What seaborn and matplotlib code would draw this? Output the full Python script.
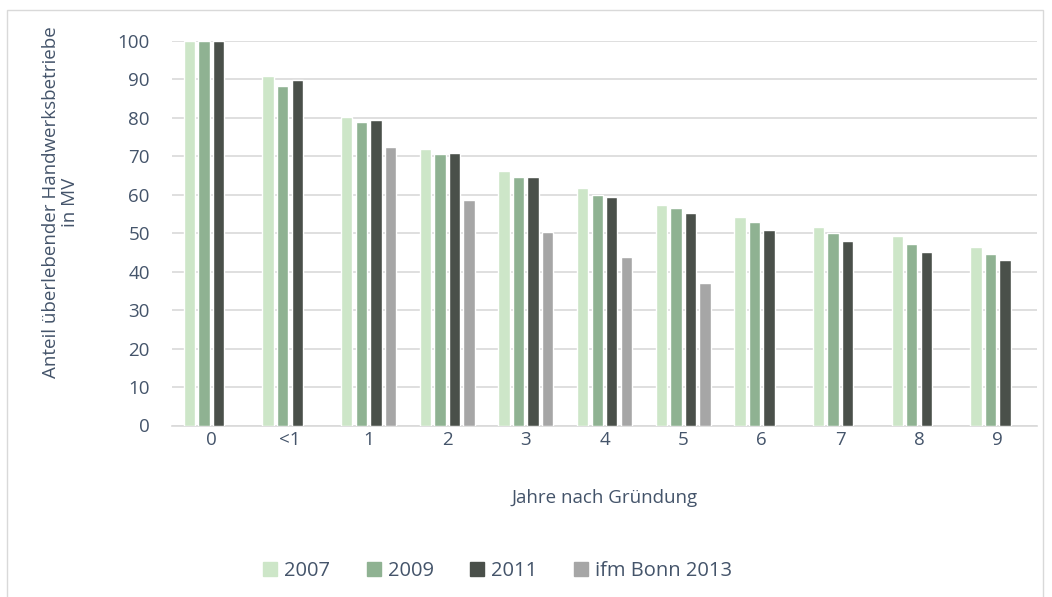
import numpy as np
import pandas as pd
import matplotlib.pyplot as plt
import matplotlib.patches as mpatches
import seaborn as sns

# Data
categories = ['0', '<1', '1', '2', '3', '4', '5', '6', '7', '8', '9']
s2007 = [100, 90.8, 80.2, 71.8, 66.2, 61.8, 57.2, 54.2, 51.5, 49.2, 46.4]
s2009 = [100, 88.2, 78.8, 70.6, 64.6, 60.0, 56.4, 52.8, 50.0, 47.1, 44.6]
s2011 = [100, 89.7, 79.5, 70.8, 64.5, 59.4, 55.1, 50.8, 47.9, 45.2, 43.1]
ifm_cats = ['1', '2', '3', '4', '5']
ifm_vals = [72.4, 58.6, 50.2, 43.8, 37.0]

series = ['2007', '2009', '2011', 'ifm Bonn 2013']
colors = ['#cde6c8', '#8fb292', '#4a504a', '#a6a6a6']

rows = []
for name, vals in zip(series[:3], [s2007, s2009, s2011]):
    for c, v in zip(categories, vals):
        rows.append({'Jahr': c, 'Wert': v, 'Serie': name})
for c, v in zip(ifm_cats, ifm_vals):
    rows.append({'Jahr': c, 'Wert': v, 'Serie': series[3]})
df = pd.DataFrame(rows)

sns.set_style("white")
plt.rcParams['font.family'] = ['Open Sans', 'DejaVu Sans']
text_col = '#44546a'

fig = plt.figure(figsize=(10.52, 5.97), dpi=100)
ax = fig.add_axes([172 / 1052, 1 - 425.5 / 597, 865 / 1052, 384.8 / 597])

sns.barplot(data=df, x='Jahr', y='Wert', hue='Serie', order=categories,
            hue_order=series, palette=colors, width=0.74, gap=0.22,
            errorbar=None, ax=ax, saturation=1, zorder=3)

ax.set_ylim(0, 100)
ax.set_yticks(range(0, 101, 10))
ax.set_xlim(-0.5, len(categories) - 0.5)
ax.yaxis.grid(True, color='#d9d9d9', linewidth=1.2, zorder=0)
ax.set_axisbelow(True)
for s in ['top', 'right', 'left']:
    ax.spines[s].set_visible(False)
ax.spines['bottom'].set_color('#d9d9d9')
ax.spines['bottom'].set_linewidth(1.2)
ax.tick_params(axis='both', length=0, labelsize=13.5, labelcolor=text_col)
ax.tick_params(axis='x', pad=4)
ax.tick_params(axis='y', pad=16)

ax.set_xlabel('Jahre nach Gründung', fontsize=13.5, color=text_col, labelpad=29)
ax.set_ylabel('Anteil überlebender Handwerksbetriebe\nin MV', fontsize=13.5,
              color=text_col, linespacing=1.05)
ax.yaxis.set_label_coords(-0.108, 0.58)

handles = [mpatches.Patch(color=c, label=l) for c, l in zip(colors, series)]
ax.get_legend().remove()
fig.legend(handles=handles, loc='center', bbox_to_anchor=(0.473, 0.043), ncol=4,
           frameon=False, fontsize=14.5, handlelength=0.7, handleheight=0.7,
           handletextpad=0.35, columnspacing=1.8, labelcolor=text_col)

# outer chart border
fig.patches.append(mpatches.Rectangle((7 / 1052, -0.01), 1036 / 1052, 1 - 10 / 597 + 0.01,
                                      transform=fig.transFigure, fill=False,
                                      edgecolor='#d9d9d9', linewidth=1))

fig.savefig('out.png', dpi=100)
